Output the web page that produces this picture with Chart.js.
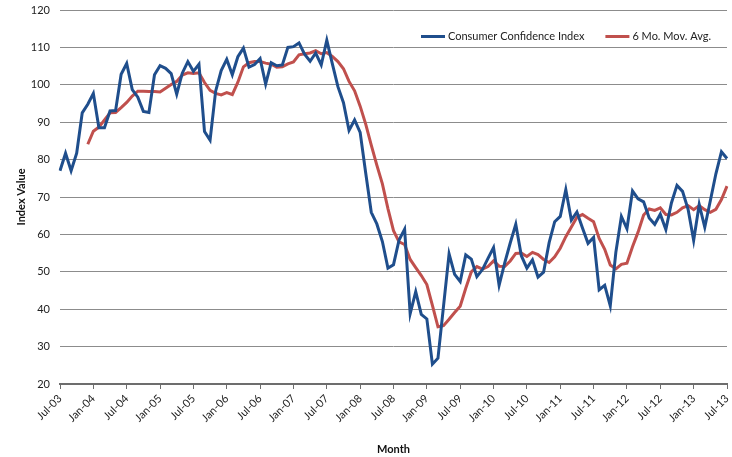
<!DOCTYPE html>
<html><head><meta charset="utf-8">
<script src="https://cdn.jsdelivr.net/npm/chart.js@4.4.0/dist/chart.umd.min.js"></script>
<style>html,body{margin:0;padding:0;background:#fff;}#wrap{width:732px;height:457px;}</style>
</head><body><div id="wrap"><canvas id="c" width="732" height="457"></canvas></div>
<script>
const months = [
 'Jul-03','Aug-03','Sep-03','Oct-03','Nov-03','Dec-03',
 'Jan-04','Feb-04','Mar-04','Apr-04','May-04','Jun-04','Jul-04','Aug-04','Sep-04','Oct-04','Nov-04','Dec-04',
 'Jan-05','Feb-05','Mar-05','Apr-05','May-05','Jun-05','Jul-05','Aug-05','Sep-05','Oct-05','Nov-05','Dec-05',
 'Jan-06','Feb-06','Mar-06','Apr-06','May-06','Jun-06','Jul-06','Aug-06','Sep-06','Oct-06','Nov-06','Dec-06',
 'Jan-07','Feb-07','Mar-07','Apr-07','May-07','Jun-07','Jul-07','Aug-07','Sep-07','Oct-07','Nov-07','Dec-07',
 'Jan-08','Feb-08','Mar-08','Apr-08','May-08','Jun-08','Jul-08','Aug-08','Sep-08','Oct-08','Nov-08','Dec-08',
 'Jan-09','Feb-09','Mar-09','Apr-09','May-09','Jun-09','Jul-09','Aug-09','Sep-09','Oct-09','Nov-09','Dec-09',
 'Jan-10','Feb-10','Mar-10','Apr-10','May-10','Jun-10','Jul-10','Aug-10','Sep-10','Oct-10','Nov-10','Dec-10',
 'Jan-11','Feb-11','Mar-11','Apr-11','May-11','Jun-11','Jul-11','Aug-11','Sep-11','Oct-11','Nov-11','Dec-11',
 'Jan-12','Feb-12','Mar-12','Apr-12','May-12','Jun-12','Jul-12','Aug-12','Sep-12','Oct-12','Nov-12','Dec-12',
 'Jan-13','Feb-13','Mar-13','Apr-13','May-13','Jun-13','Jul-13'
];
const consumerConfidence = [
 77.0,81.7,77.0,81.7,92.5,94.8,
 97.7,88.5,88.5,93.0,93.1,102.8,105.7,98.7,96.7,92.9,92.6,102.7,
 105.1,104.4,103.0,97.5,103.1,106.2,103.6,105.5,87.5,85.2,98.3,103.8,
 106.8,102.7,107.5,109.8,104.7,105.4,107.0,100.2,105.9,105.1,105.3,110.0,
 110.2,111.2,108.2,106.3,108.5,105.3,111.9,105.6,99.5,95.2,87.8,90.6,
 87.3,76.4,65.9,62.8,58.1,51.0,51.9,58.5,61.4,38.8,44.7,38.6,
 37.4,25.3,26.9,40.8,54.8,49.3,47.4,54.5,53.4,48.7,50.6,53.6,
 56.5,46.4,52.3,57.7,62.7,54.3,51.0,53.2,48.6,49.9,57.8,63.4,
 64.8,72.0,63.8,66.0,61.7,57.6,59.2,45.2,46.4,40.9,55.2,64.8,
 61.5,71.6,69.5,68.7,64.4,62.7,65.4,61.3,68.4,73.1,71.5,66.7,
 58.4,68.0,61.9,69.0,76.2,82.1,80.3
];
const movingAverage6 = [
 null,null,null,null,null,84.1,
 87.6,88.7,90.6,92.5,92.6,93.9,95.3,97.0,98.3,98.3,98.2,98.2,
 98.1,99.1,100.1,100.9,102.6,103.2,103.0,103.2,100.6,98.5,97.7,97.3,
 97.9,97.4,100.7,104.8,105.9,106.2,106.2,105.8,105.5,104.7,104.8,105.6,
 106.1,108.0,108.3,108.5,109.1,108.3,108.6,107.6,106.2,104.3,100.9,98.4,
 94.3,89.5,83.9,78.5,73.5,66.9,61.0,58.0,57.3,53.3,51.1,49.0,
 46.6,41.0,35.3,35.6,37.3,39.1,40.8,45.6,50.0,51.4,50.7,51.4,
 52.9,51.5,51.4,52.9,54.9,55.0,54.1,55.2,54.6,53.3,52.5,54.0,
 56.3,59.4,62.0,64.6,65.3,64.3,63.4,58.9,56.0,51.8,50.8,52.0,
 52.3,56.7,60.6,65.2,66.8,66.4,67.1,65.3,65.2,65.9,67.1,67.7,
 66.6,67.7,66.6,65.9,66.7,69.3,72.9
];
const seriesNames = ['Consumer Confidence Index','6 Mo. Mov. Avg.'];
const yMin = 20, yMax = 120, yStep = 10, labelEvery = 6;

const FONT = 'Lato, "Open Sans", sans-serif';

const insideLegend = {
  id: 'insideLegend',
  afterDraw(chart) {
    const ctx = chart.ctx;
    const area = chart.chartArea;
    ctx.save();
    ctx.font = '11px ' + FONT;
    ctx.textBaseline = 'middle';
    const sample = 24, gapText = 3, gapItem = 21;
    const ds = chart.data.datasets;
    let total = 0;
    ds.forEach((d, i) => { total += sample + gapText + ctx.measureText(d.label).width + (i < ds.length - 1 ? gapItem : 0); });
    let x = area.right - 16 - total;
    const y = area.top + 26.5;
    ds.forEach((d, i) => {
      ctx.strokeStyle = d.borderColor;
      ctx.lineWidth = 3;
      ctx.beginPath(); ctx.moveTo(x, y); ctx.lineTo(x + sample, y); ctx.stroke();
      x += sample + gapText;
      ctx.fillStyle = '#222';
      ctx.fillText(d.label, x, y);
      x += ctx.measureText(d.label).width + gapItem;
    });
    ctx.restore();
  }
};

new Chart(document.getElementById('c'), {
  type: 'line',
  data: {
    labels: months,
    datasets: [
      { label: seriesNames[0], data: consumerConfidence, borderColor: '#1F4E8C', borderWidth: 3, pointRadius: 0, tension: 0, fill: false },
      { label: seriesNames[1], data: movingAverage6, borderColor: '#C0504D', borderWidth: 3, pointRadius: 0, tension: 0, fill: false }
    ]
  },
  options: {
    responsive: false, animation: false, devicePixelRatio: 1,
    layout: { padding: { top: 10, right: 5, left: 0, bottom: 0 } },
    plugins: { legend: { display: false }, tooltip: { enabled: false } },
    scales: {
      x: {
        type: 'category', offset: false,
        grid: { display: true, drawOnChartArea: false, drawTicks: true, tickLength: 5, color: '#6d6d6d', lineWidth: 1 },
        border: { display: true, color: '#6d6d6d', width: 2 },
        ticks: { autoSkip: false, maxRotation: 45, minRotation: 45, font: { family: FONT, size: 11 }, color: '#222', padding: 3 },
        afterBuildTicks: s => { s.ticks = s.ticks.filter(t => t.value % labelEvery === 0); },
        title: { display: true, text: 'Month', font: { family: FONT, size: 11, weight: 'bold' }, color: '#111', padding: { top: 0, bottom: 1 } },
        afterFit: s => { s.height = 73; s.paddingLeft = 0; s.paddingRight = 0; }
      },
      y: {
        min: yMin, max: yMax,
        ticks: { stepSize: yStep, font: { family: FONT, size: 11 }, color: '#222', padding: 10 },
        grid: { color: '#8c8c8c', lineWidth: 1, drawTicks: false },
        border: { display: false },
        title: { display: true, text: 'Index Value', font: { family: FONT, size: 11, weight: 'bold' }, color: '#111', padding: { top: 15, bottom: 0 } },
        afterFit: s => { s.width = 60; s.paddingTop = 0; s.paddingBottom = 0; }
      }
    }
  },
  plugins: [insideLegend]
});
</script>
</body></html>
